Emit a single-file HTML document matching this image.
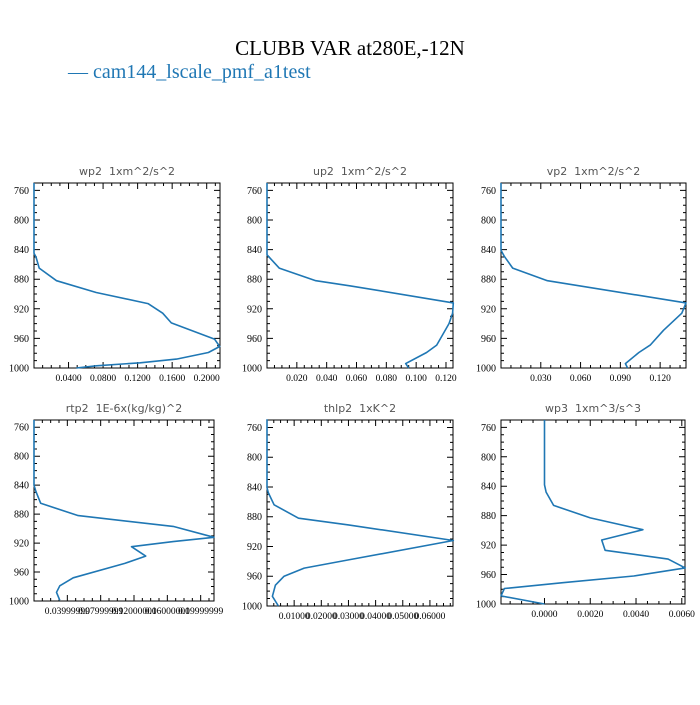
<!DOCTYPE html>
<html><head><meta charset="utf-8"><style>
body{margin:0;background:#fff;width:700px;height:700px;overflow:hidden}
svg text{font-family:"Liberation Serif",serif}
</style></head><body>
<svg id="chart" width="700" height="700" xmlns="http://www.w3.org/2000/svg">
<text x="350" y="55" text-anchor="middle" font-size="21" fill="#000">CLUBB VAR at280E,-12N</text>
<text x="68" y="78" font-size="20" fill="#1f77b4">— cam144_lscale_pmf_a1test</text>
</svg>
<script>
const pressure1 = [750,845,850,865,882,898,913,926,939,961,971,979,988,993,997,1000];
const wp2Values = [0,0,0.0023,0.006,0.026,0.072,0.132,0.149,0.159,0.209,0.215,0.202,0.165,0.123,0.072,0.049];
const pressure2 = [750,847,865,882,889,912,926,940,969,979,994,1000];
const up2Values = [0,0,0.0082,0.0327,0.056,0.1249,0.1244,0.122,0.1138,0.107,0.093,0.095];
const pressure3 = [750,841,849,865,882,912,926,949,969,979,994,1000];
const vp2Values = [0,0,0.0025,0.0088,0.035,0.1395,0.1363,0.1225,0.1125,0.104,0.0938,0.0955];
const pressure4 = [750,840,849,865,882,897,912,918,925,938,948,968,979,988,999];
const rtp2Values = [0,0,0.0024,0.008,0.053,0.167,0.216,0.167,0.117,0.134,0.109,0.047,0.031,0.027,0.031];
const pressure5 = [749,841,848,864,882,891,912,938,949,960,972,987,1000];
const thlp2Values = [0,0,0.0005,0.0026,0.0116,0.030,0.0686,0.030,0.0137,0.0063,0.0031,0.002,0.0042];
const pressure6 = [750,838,848,866,883,899,913,927,939,951,962,971,979,989,1000];
const wp3Values = [0,0,0.00007,0.0004,0.002,0.0043,0.0025,0.00265,0.0054,0.00615,0.0039,0.0008,-0.00175,-0.0019,0];
const yTicks = [760,800,840,880,920,960,1000];
const ticks1 = [0.04,0.08,0.12,0.16,0.2];
const labels1 = ["0.0400","0.0800","0.1200","0.1600","0.2000"];
const ticks2 = [0.02,0.04,0.06,0.08,0.10,0.12];
const labels2 = ["0.020","0.040","0.060","0.080","0.100","0.120"];
const ticks3 = [0.03,0.06,0.09,0.12];
const labels3 = ["0.030","0.060","0.090","0.120"];
const ticks4 = [0.04,0.08,0.12,0.16,0.2];
const labels4 = ["0.03999999","0.07999999","0.12000000","0.16000000","0.19999999"];
const ticks5 = [0.01,0.02,0.03,0.04,0.05,0.06];
const labels5 = ["0.01000","0.02000","0.03000","0.04000","0.05000","0.06000"];
const ticks6 = [0,0.002,0.004,0.006];
const labels6 = ["0.0000","0.0020","0.0040","0.0060"];

const panels = [
 {name:"wp2",title:"wp2  1xm^2/s^2",x0:34,x1:220,y0:183,y1:368,xmin:0,xmax:0.2154,p:pressure1,v:wp2Values,t:ticks1,l:labels1,minor:0.01},
 {name:"up2",title:"up2  1xm^2/s^2",x0:267,x1:453,y0:183,y1:368,xmin:0,xmax:0.1247,p:pressure2,v:up2Values,t:ticks2,l:labels2,minor:0.005},
 {name:"vp2",title:"vp2  1xm^2/s^2",x0:501,x1:686,y0:183,y1:368,xmin:0,xmax:0.1395,p:pressure3,v:vp2Values,t:ticks3,l:labels3,minor:0.0075},
 {name:"rtp2",title:"rtp2  1E-6x(kg/kg)^2",x0:34,x1:214,y0:420,y1:601,xmin:0,xmax:0.216,p:pressure4,v:rtp2Values,t:ticks4,l:labels4,minor:0.01},
 {name:"thlp2",title:"thlp2  1xK^2",x0:267,x1:453,y0:420,y1:606,xmin:0,xmax:0.0685,p:pressure5,v:thlp2Values,t:ticks5,l:labels5,minor:0.0025},
 {name:"wp3",title:"wp3  1xm^3/s^3",x0:501,x1:685,y0:420,y1:604,xmin:-0.0019,xmax:0.00614,p:pressure6,v:wp3Values,t:ticks6,l:labels6,minor:0.0005}
];
const svg = document.getElementById('chart');
const NS = "http://www.w3.org/2000/svg";
function mk(tag, attrs, parent){const e=document.createElementNS(NS,tag);for(const k in attrs)e.setAttribute(k,attrs[k]);parent.appendChild(e);return e;}
panels.forEach(P=>{
  const g = mk('g',{},svg);
  
  
  const xs = v => P.x0 + (v-P.xmin)/(P.xmax-P.xmin)*(P.x1-P.x0);
  const ys = p => P.y0 + (p-750)/(250)*(P.y1-P.y0);
  const tt = mk('text',{x:(P.x0+P.x1)/2,y:P.y0-8,'text-anchor':'middle','font-size':11,fill:'#555',style:'font-family:"DejaVu Sans",sans-serif;white-space:pre'},g);
  
  
  tt.textContent = P.title;
  const fr = mk('rect',{x:P.x0,y:P.y0,width:P.x1-P.x0,height:P.y1-P.y0,fill:'none',stroke:'#000','stroke-width':1},g);
  
  
  let d='';
  for(let p=760;p<=1000;p+=10){const y=ys(p);const L=(p%40===0)?6:3;d+=`M${P.x0},${y}h${L}M${P.x1},${y}h${-L}`;}
  const start=Math.ceil(P.xmin/P.minor-1e-6);
  for(let i=start;P.minor*i<=P.xmax+1e-9;i++){const v=P.minor*i;const x=xs(v);const major=P.t.some(t=>Math.abs(t-v)<P.minor/10);const L=major?6:3;d+=`M${x},${P.y1}v${-L}M${x},${P.y0}v${L}`;}
  const tk=mk('path',{d:d,stroke:'#000','stroke-width':1,fill:'none'},g);
  
  
  yTicks.forEach(p=>{const t=mk('text',{x:P.x0-5,y:ys(p)+3.5,'text-anchor':'end','font-size':10,fill:'#000'},g);
    
    
    t.textContent=p;});
  P.t.forEach((v,i)=>{const t=mk('text',{x:xs(v),y:P.y1+13,'text-anchor':'middle','font-size':9.5,fill:'#000'},g);
    
    
    t.textContent=P.l[i];});
  const pts=P.v.map((v,i)=>xs(v).toFixed(1)+','+ys(P.p[i]).toFixed(1)).join(' ');
  const ln=mk('polyline',{points:pts,fill:'none',stroke:'#1f77b4','stroke-width':1.6,'stroke-linejoin':'round'},g);
  
  
});
</script>
</body></html>
